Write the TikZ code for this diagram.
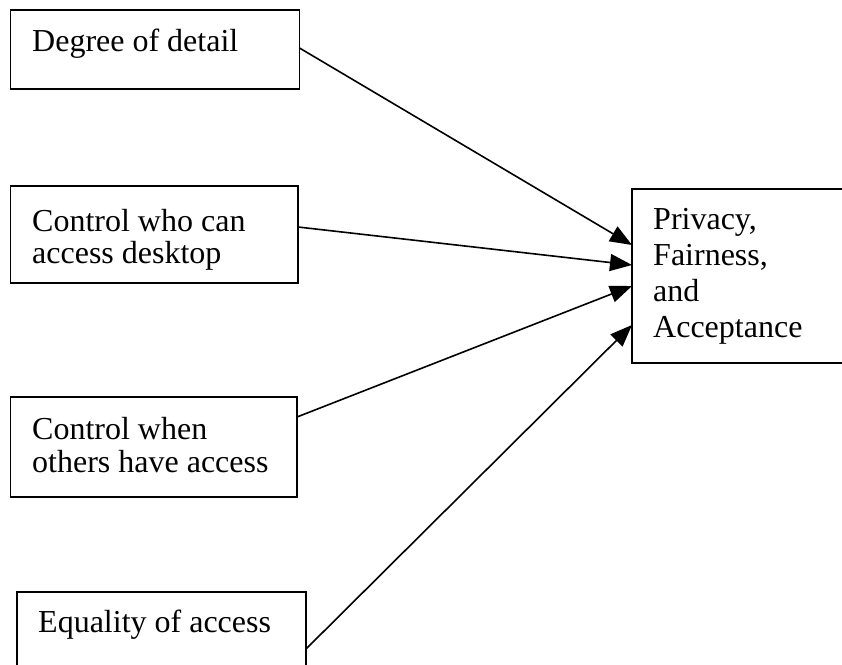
\documentclass[tikz,border=0pt]{standalone}
\usepackage{fontspec}
\setmainfont{Liberation Serif}
\usetikzlibrary{arrows.meta}
\begin{document}
\begin{tikzpicture}[x=1pt,y=-1pt,
  box/.style={draw, line width=1.8pt, anchor=north west, inner sep=0pt, outer sep=0pt},
  txt/.style={anchor=base west, inner sep=0pt, font=\fontsize{32}{36}\selectfont},
  conn/.style={line width=1.6pt, -{Triangle[length=22pt,width=17pt]}}]
\path[use as bounding box, clip] (0,0) rectangle (842,664);
\fill[white] (0,0) rectangle (842,664);
% boxes
\node[box, minimum width=289pt, minimum height=79pt] (b1) at (10.5,10) {};
\node[box, minimum width=287.5pt, minimum height=97pt] (b2) at (10.5,186) {};
\node[box, minimum width=286.5pt, minimum height=100pt] (b3) at (10.5,397) {};
\node[box, minimum width=289pt, minimum height=110pt] (b4) at (17,592) {};
\node[box, minimum width=270pt, minimum height=174pt] (r) at (632,189) {};
% texts
\node[txt] (t1) at (32,51) {Degree of detail};
\node[txt] (t2a) at (32,231) {Control who can};
\node[txt] (t2b) at (32,263) {access desktop};
\node[txt] (t3a) at (32,439) {Control when};
\node[txt] (t3b) at (32,472) {others have access};
\node[txt] (t4) at (38,632) {Equality of access};
\node[txt] (ra) at (653,229) {Privacy,};
\node[txt] (rb) at (653,265) {Fairness,};
\node[txt] (rc) at (653,301) {and};
\node[txt] (rd) at (653,337) {Acceptance};
% connectors
\draw[conn] ([yshift=-38pt]b1.north east) -- ([yshift=-56pt]r.north west);
\draw[conn] ([yshift=-41pt]b2.north east) -- ([yshift=-76pt]r.north west);
\draw[conn] ([yshift=-20pt]b3.north east) -- ([yshift=-97pt]r.north west);
\draw[conn] ([yshift=-57pt]b4.north east) -- ([yshift=-136pt]r.north west);
\end{tikzpicture}
\end{document}
